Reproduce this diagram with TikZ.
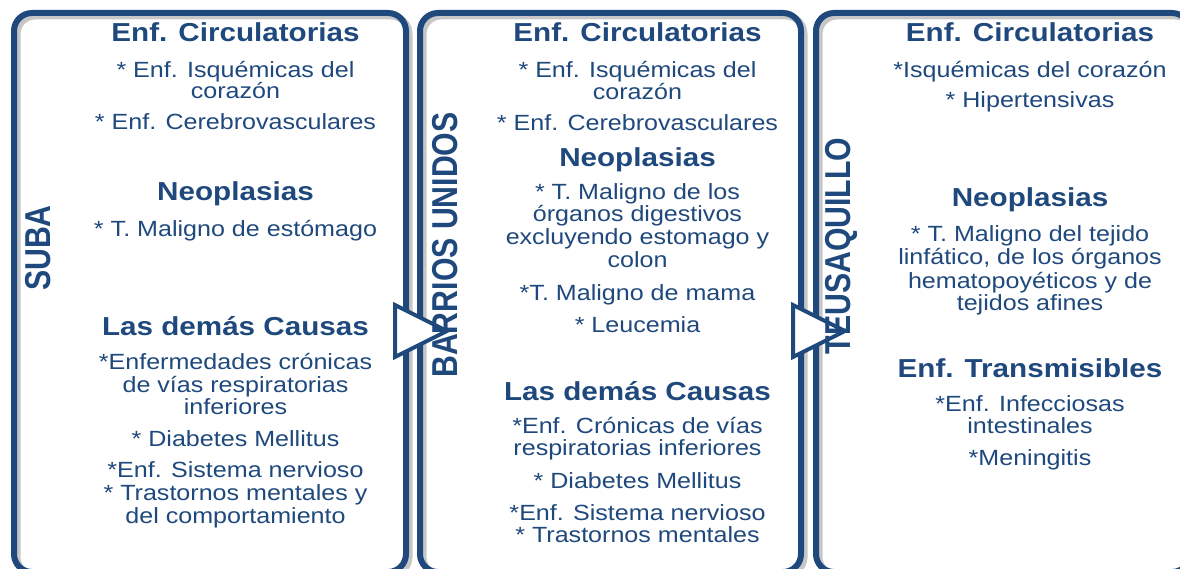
\documentclass[tikz,border=0pt]{standalone}
\usepackage{fontspec}
\setmainfont{Liberation Sans}[FakeStretch=1.14]
\newfontfamily\vlabfont{Liberation Sans}[FakeStretch=0.84]
\definecolor{navy}{HTML}{1F497D}
\begin{document}
\begin{tikzpicture}[x=1pt,y=-1pt,
 frame/.style={draw=navy, line width=6pt, rounded corners=18pt},
 frameshadow/.style={draw=black!22, line width=7pt, rounded corners=18pt},
 hd/.style={anchor=base, inner sep=0pt, text=navy, font=\fontsize{26}{28}\selectfont\bfseries},
 bd/.style={anchor=base, inner sep=0pt, text=navy, font=\fontsize{22}{23}\selectfont},
 vl/.style={inner sep=0pt, text=navy, rotate=90, font=\vlabfont\fontsize{36}{38}\selectfont\bfseries},
 tri/.style={draw=navy, fill=white, line width=4pt, line join=miter}]
\useasboundingbox (0,0) rectangle (1180,569);
\clip (0,0) rectangle (1180,569);
\fill[white] (0,0) rectangle (1180,569);
% frames
\draw[frameshadow] (17,16) rectangle (409,575);
\draw[frameshadow] (423,16) rectangle (804,575);
\draw[frameshadow] (819,16) rectangle (1193,575);
\draw[frame] (14,13) rectangle (406,572);
\draw[frame] (420,13) rectangle (801,572);
\draw[frame] (816,13) rectangle (1190,572);
% arrows
\draw[tri] (395,305) -- (447,331) -- (395,357) -- cycle;
\draw[tri] (793,305) -- (845,331) -- (793,357) -- cycle;
% vertical labels
\node[vl] (suba) at (38,248) {SUBA};
\node[vl] (barrios) at (445,245) {BARRIOS UNIDOS};
\node[vl] (teusa) at (841,246) {TEUSAQUILLO};
% box 1
\node[hd] (a1) at (235.5,42) {Enf. Circulatorias};
\node[bd] (a2) at (235.5,78) {* Enf. Isquémicas del};
\node[bd] (a3) at (235.5,99) {corazón};
\node[bd] (a4) at (235.5,130) {* Enf. Cerebrovasculares};
\node[hd] (a5) at (235.5,201) {Neoplasias};
\node[bd] (a6) at (235.5,237) {* T. Maligno de estómago};
\node[hd] (a7) at (235.5,335) {Las demás Causas};
\node[bd] (a8) at (235.5,369) {*Enfermedades crónicas};
\node[bd] (a9) at (235.5,392) {de vías respiratorias};
\node[bd] (a10) at (235.5,414) {inferiores};
\node[bd] (a11) at (235.5,446) {* Diabetes Mellitus};
\node[bd] (a12) at (235.5,477) {*Enf. Sistema nervioso};
\node[bd] (a13) at (235.5,500) {* Trastornos mentales y};
\node[bd] (a14) at (235.5,523) {del comportamiento};
% box 2
\node[hd] (b1) at (637.5,42) {Enf. Circulatorias};
\node[bd] (b2) at (637.5,78) {* Enf. Isquémicas del};
\node[bd] (b3) at (637.5,100) {corazón};
\node[bd] (b4) at (637.5,131) {* Enf. Cerebrovasculares};
\node[hd] (b5) at (637.5,167) {Neoplasias};
\node[bd] (b6) at (637.5,200) {* T. Maligno de los};
\node[bd] (b7) at (637.5,222) {órganos digestivos};
\node[bd] (b8) at (637.5,245) {excluyendo estomago y};
\node[bd] (b9) at (637.5,268) {colon};
\node[bd] (b10) at (637.5,301) {*T. Maligno de mama};
\node[bd] (b11) at (637.5,332) {* Leucemia};
\node[hd] (b12) at (637.5,400) {Las demás Causas};
\node[bd] (b13) at (637.5,433) {*Enf. Crónicas de vías};
\node[bd] (b14) at (637.5,455) {respiratorias inferiores};
\node[bd] (b15) at (637.5,488) {* Diabetes Mellitus};
\node[bd] (b16) at (637.5,520) {*Enf. Sistema nervioso};
\node[bd] (b17) at (637.5,542) {* Trastornos mentales};
% box 3
\node[hd] (c1) at (1030,42) {Enf. Circulatorias};
\node[bd] (c2) at (1030,78) {*Isquémicas del corazón};
\node[bd] (c3) at (1030,108) {* Hipertensivas};
\node[hd] (c4) at (1030,207) {Neoplasias};
\node[bd] (c5) at (1030,242) {* T. Maligno del tejido};
\node[bd] (c6) at (1030,265) {linfático, de los órganos};
\node[bd] (c7) at (1030,288) {hematopoyéticos y de};
\node[bd] (c8) at (1030,310) {tejidos afines};
\node[hd] (c9) at (1030,377) {Enf. Transmisibles};
\node[bd] (c10) at (1030,411) {*Enf. Infecciosas};
\node[bd] (c11) at (1030,433) {intestinales};
\node[bd] (c12) at (1030,465) {*Meningitis};
\end{tikzpicture}
\end{document}
